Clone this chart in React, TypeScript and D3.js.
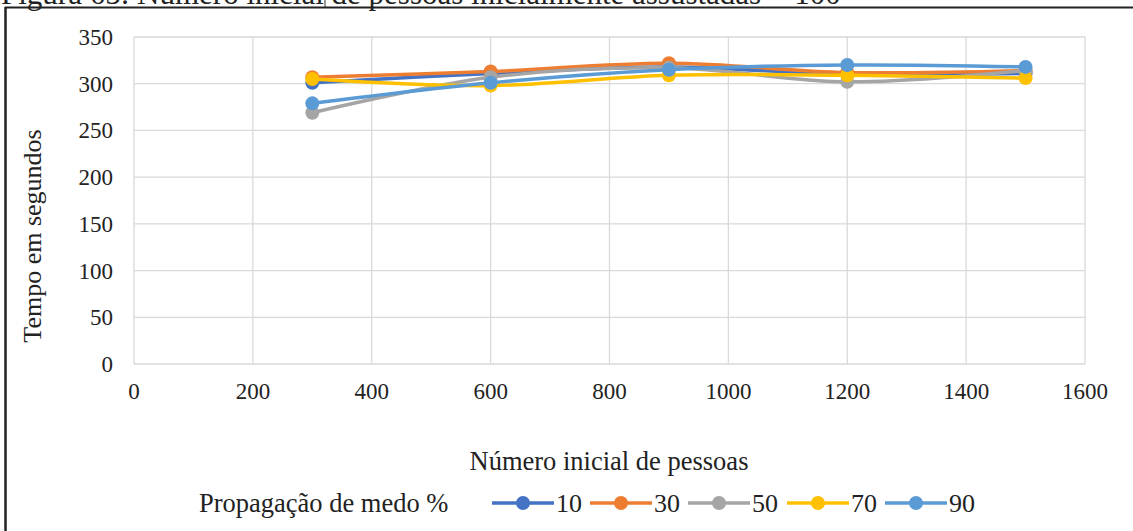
import React from "react";
import * as d3 from "d3";

const xValues = [300, 600, 900, 1200, 1500];
const seriesNames = ["10", "30", "50", "70", "90"];
const seriesColors = ["#4472C4", "#ED7D31", "#A5A5A5", "#FFC000", "#5B9BD5"];
const s10 = [301, 311, 318, 310, 311];
const s30 = [307, 313, 322, 312, 314];
const s50 = [269, 307, 317, 302, 314];
const s70 = [305, 298, 309, 309, 306];
const s90 = [279, 301, 315, 320, 318];
const seriesValues = [s10, s30, s50, s70, s90];
const xTicks = [0, 200, 400, 600, 800, 1000, 1200, 1400, 1600];
const yTicks = [0, 50, 100, 150, 200, 250, 300, 350];

const FONT = "'Liberation Serif', 'Times New Roman', serif";
const tStyle = { fontFamily: FONT };

export default function App() {
  const W = 1133, H = 531;
  const x = d3.scaleLinear().domain([0, 1600]).range([134, 1085]);
  const y = d3.scaleLinear().domain([0, 350]).range([364, 37]);
  const line = d3
    .line<number>()
    .x((_, i) => x(xValues[i]))
    .y((d) => y(d))
    .curve(d3.curveCatmullRom.alpha(0.5));

  const legendX = [492, 590, 688, 787, 885];

  return (
    <svg
      width={W}
      height={H}
      style={{ position: "absolute", left: 0, top: 0, background: "#fff" }}
    >
      <rect x={0} y={0} width={W} height={H} fill="#fff" />
      {/* cut-off caption */}
      <text x={1} y={4} fontSize={31} fill="#222" style={tStyle}>
        Figura 65: Número inicial de pessoas inicialmente assustadas = 100
      </text>
      <line x1={325} x2={325} y1={0} y2={7} stroke="#333" strokeWidth={1} />
      {/* frame */}
      <line x1={5} x2={W} y1={7.5} y2={7.5} stroke="#222" strokeWidth={2} />
      <line x1={5.5} x2={5.5} y1={7} y2={H} stroke="#222" strokeWidth={2.5} />

      {/* grid */}
      {yTicks.map((t) => (
        <line key={"gy" + t} x1={x(0)} x2={x(1600)} y1={y(t)} y2={y(t)} stroke="#d9d9d9" strokeWidth={1.3} />
      ))}
      {xTicks.map((t) => (
        <line key={"gx" + t} x1={x(t)} x2={x(t)} y1={y(0)} y2={y(350)} stroke="#d9d9d9" strokeWidth={1.3} />
      ))}

      {/* y tick labels */}
      {yTicks.map((t) => (
        <text key={"ty" + t} x={113} y={y(t) + 8} fontSize={23} textAnchor="end" fill="#222" style={tStyle}>
          {t}
        </text>
      ))}
      {/* x tick labels */}
      {xTicks.map((t) => (
        <text key={"tx" + t} x={x(t)} y={399} fontSize={23} textAnchor="middle" fill="#222" style={tStyle}>
          {t}
        </text>
      ))}

      {/* axis titles */}
      <text
        transform={`translate(41, 236) rotate(-90)`}
        fontSize={26}
        textAnchor="middle"
        fill="#222"
        style={tStyle}
      >
        Tempo em segundos
      </text>
      <text x={609} y={470} fontSize={26.5} textAnchor="middle" fill="#222" style={tStyle}>
        Número inicial de pessoas
      </text>

      {/* series */}
      {seriesValues.map((vals, si) => (
        <g key={"s" + si}>
          <path d={line(vals) || ""} fill="none" stroke={seriesColors[si]} strokeWidth={3.5} strokeLinejoin="round" />
          {vals.map((v, i) => (
            <circle key={i} cx={x(xValues[i])} cy={y(v)} r={7} fill={seriesColors[si]} />
          ))}
        </g>
      ))}

      {/* legend */}
      <text x={199} y={512} fontSize={26.5} fill="#222" style={tStyle}>
        Propagação de medo %
      </text>
      {seriesNames.map((n, i) => (
        <g key={"l" + n}>
          <line x1={legendX[i]} x2={legendX[i] + 62} y1={503} y2={503} stroke={seriesColors[i]} strokeWidth={3.5} />
          <circle cx={legendX[i] + 31} cy={503} r={7} fill={seriesColors[i]} />
          <text x={legendX[i] + 64} y={512} fontSize={26} fill="#222" style={tStyle}>
            {n}
          </text>
        </g>
      ))}
    </svg>
  );
}
